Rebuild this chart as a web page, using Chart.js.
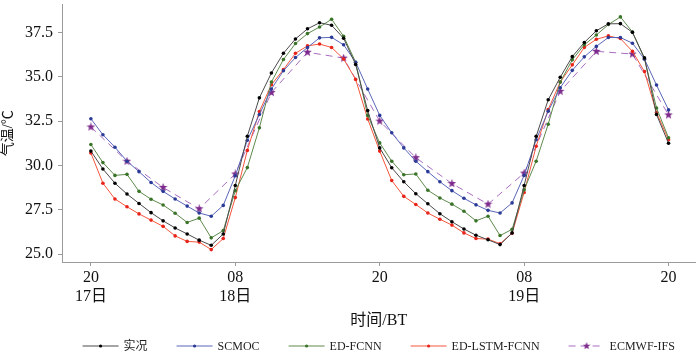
<!DOCTYPE html>
<html>
<head>
<meta charset="utf-8">
<title>气温对比</title>
<script src="https://cdn.jsdelivr.net/npm/chart.js@4"></script>
<style>
    html, body { margin: 0; padding: 0; background: #fff; }
    #chart { display: block; }
</style>
</head>
<body>
<canvas id="chart" width="700" height="353"></canvas>
<script>
// Hours since 20 BT on the 17th
const hours = [];
for (let h = 0; h <= 48; h++) hours.push(h);
const ecmwfHours = [0, 3, 6, 9, 12, 15, 18, 21, 24, 27, 30, 33, 36, 39, 42, 45, 48];

const xTickValues = [0, 12, 24, 36, 48];
const xTickLabels = [['20', '17日'], ['08', '18日'], ['20', ''], ['08', '19日'], ['20', '']];
const yTickValues = [25.0, 27.5, 30.0, 32.5, 35.0, 37.5];

const observed = [30.81, 29.80, 29.00, 28.39, 27.86, 27.34, 26.88, 26.48, 26.14, 25.79, 25.50, 26.14, 28.87,
    31.65, 33.81, 35.21, 36.32, 37.13, 37.70, 38.04, 37.90, 37.17, 35.69, 33.09, 30.99,
    29.87, 29.08, 28.41, 27.84, 27.28, 26.83, 26.42, 26.07, 25.81, 25.54, 26.20, 28.87,
    31.64, 33.70, 34.97, 36.13, 36.93, 37.59, 37.98, 37.99, 37.50, 36.06, 32.87, 31.25];

const scmoc = [32.63, 31.73, 31.03, 30.24, 29.65, 29.04, 28.54, 28.11, 27.71, 27.32, 27.14, 27.75, 29.42,
    31.42, 32.87, 34.31, 35.34, 36.08, 36.65, 37.19, 37.22, 36.80, 35.82, 34.31, 32.82,
    31.84, 30.99, 30.24, 29.65, 29.08, 28.58, 28.15, 27.78, 27.47, 27.32, 27.89, 29.44,
    31.45, 33.06, 34.38, 35.36, 36.12, 36.71, 37.21, 37.21, 36.89, 35.99, 34.53, 33.13];

const edFcnn = [31.18, 30.16, 29.44, 29.50, 28.54, 28.10, 27.77, 27.31, 26.79, 27.03, 25.92, 26.33, 28.58,
    29.88, 32.12, 34.70, 35.97, 36.87, 37.43, 37.80, 38.24, 37.28, 35.82, 32.82, 31.27,
    30.24, 29.48, 29.52, 28.60, 28.17, 27.82, 27.42, 26.88, 27.14, 26.05, 26.40, 28.63,
    30.24, 32.32, 34.70, 35.95, 36.80, 37.35, 37.94, 38.37, 37.52, 36.01, 33.24, 31.56];

const edLstmFcnn = [30.70, 29.00, 28.11, 27.67, 27.27, 26.92, 26.57, 26.03, 25.72, 25.68, 25.26, 25.88, 28.19,
    30.85, 33.04, 34.55, 35.40, 36.32, 36.74, 36.84, 36.65, 36.00, 34.85, 32.62, 30.81,
    29.15, 28.26, 27.80, 27.32, 26.97, 26.64, 26.20, 25.88, 25.85, 25.59, 26.18, 28.48,
    31.08, 33.15, 34.70, 35.67, 36.65, 37.11, 37.30, 37.15, 36.43, 35.29, 32.98, 31.45];

const ecmwf = [32.17, 30.24, 28.76, 27.56, 29.52, 34.11, 36.38, 36.05, 32.50,
    30.44, 28.98, 27.82, 29.57, 34.18, 36.43, 36.28, 32.85];

const serif = '"Liberation Serif", "Noto Sans CJK SC", serif';

// Filled star marker for ECMWF-IFS
function makeStar(size, color) {
    const c = document.createElement('canvas');
    c.width = size;
    c.height = size;
    const g = c.getContext('2d');
    const cx = size / 2, cy = size / 2, R = size / 2, r = R * 0.42;
    g.beginPath();
    for (let i = 0; i < 10; i++) {
        const rad = i % 2 === 0 ? R : r;
        const a = -Math.PI / 2 + i * Math.PI / 5;
        const px = cx + rad * Math.cos(a), py = cy + rad * Math.sin(a);
        if (i === 0) g.moveTo(px, py); else g.lineTo(px, py);
    }
    g.closePath();
    g.fillStyle = color;
    g.fill();
    return c;
}
const starImg = makeStar(9, '#7d2a8c');
const legendStar = makeStar(8, '#7d2a8c');

function series(values, xs) {
    return values.map((v, i) => ({ x: xs[i], y: v }));
}

// Legend drawn under the axes: short line with marker, then label
const legendPlugin = {
    id: 'bottomLegend',
    afterDraw(chart) {
        const ctx = chart.ctx;
        const y = 346;
        const lineLen = 36, gapText = 5, gapItem = 29;
        ctx.save();
        ctx.font = '12px ' + serif;
        const items = chart.data.datasets.map(ds => ({ ds, w: ctx.measureText(ds.label).width }));
        const total = items.reduce((s, it) => s + lineLen + gapText + it.w, 0) + gapItem * (items.length - 1);
        let x = (chart.chartArea.left + chart.chartArea.right) / 2 - total / 2;
        items.forEach(it => {
            const ds = it.ds;
            ctx.strokeStyle = ds.borderColor;
            ctx.lineWidth = 1;
            ctx.setLineDash(ds.borderDash || []);
            ctx.beginPath();
            ctx.moveTo(x, y);
            ctx.lineTo(x + lineLen, y);
            ctx.stroke();
            ctx.setLineDash([]);
            const mx = x + lineLen / 2;
            if (ds.pointStyle === starImg) {
                ctx.drawImage(legendStar, mx - 4, y - 4);
            } else {
                ctx.fillStyle = ds.pointBackgroundColor;
                ctx.beginPath();
                ctx.arc(mx, y, 1.6, 0, Math.PI * 2);
                ctx.fill();
            }
            ctx.fillStyle = '#222';
            ctx.textBaseline = 'middle';
            ctx.textAlign = 'left';
            ctx.fillText(ds.label, x + lineLen + gapText, y + 1);
            x += lineLen + gapText + it.w + gapItem;
        });
        ctx.restore();
    }
};

function lineSet(label, values, xs, lineColor, pointColor, extra) {
    return Object.assign({
        label: label,
        data: series(values, xs),
        borderColor: lineColor,
        backgroundColor: pointColor,
        pointBackgroundColor: pointColor,
        pointBorderColor: pointColor,
        borderWidth: 1,
        pointRadius: 1.8,
        pointBorderWidth: 0,
        tension: 0,
        fill: false
    }, extra || {});
}

document.addEventListener('DOMContentLoaded', function() {
    const ctx = document.getElementById('chart');
    const axisColor = '#9a9a9a';

    new Chart(ctx, {
        type: 'line',
        data: {
            datasets: [
                lineSet('实况', observed, hours, '#4a4a4a', '#000000'),
                lineSet('SCMOC', scmoc, hours, '#5a66b8', '#2a3a96'),
                lineSet('ED-FCNN', edFcnn, hours, '#5e8a4c', '#3a7428'),
                lineSet('ED-LSTM-FCNN', edLstmFcnn, hours, '#f4563c', '#e8231a'),
                lineSet('ECMWF-IFS', ecmwf, ecmwfHours, '#a96cc0', '#7d2a8c', {
                    borderDash: [7, 5],
                    pointStyle: starImg,
                    pointRadius: 4.5
                })
            ]
        },
        options: {
            responsive: false,
            animation: false,
            layout: { padding: { top: 0, left: 0, right: 2, bottom: 23 } },
            plugins: {
                legend: { display: false },
                tooltip: { enabled: false }
            },
            scales: {
                x: {
                    type: 'linear',
                    min: -2.4,
                    max: 50.24,
                    afterBuildTicks: function(axis) {
                        axis.ticks = xTickValues.map(v => ({ value: v }));
                    },
                    afterFit: function(scale) {
                        scale.height = 68;
                        scale.paddingLeft = 0;
                        scale.paddingRight = 0;
                    },
                    grid: { display: true, drawOnChartArea: false, drawTicks: true, tickLength: 4, color: axisColor },
                    border: { color: axisColor, width: 1 },
                    ticks: {
                        color: '#111',
                        padding: 3,
                        maxRotation: 0,
                        autoSkip: false,
                        font: { family: serif, size: 16, lineHeight: 1.15 },
                        callback: function(value) {
                            const i = xTickValues.indexOf(value);
                            return i >= 0 ? xTickLabels[i] : '';
                        }
                    },
                    title: {
                        display: true,
                        text: '时间/BT',
                        color: '#111',
                        padding: { top: 0, bottom: 0 },
                        font: { family: serif, size: 16, lineHeight: 1.2 }
                    }
                },
                y: {
                    min: 24.56,
                    max: 39.07,
                    afterBuildTicks: function(axis) {
                        axis.ticks = yTickValues.map(v => ({ value: v }));
                    },
                    afterFit: function(scale) {
                        scale.width = 62;
                        scale.paddingTop = 0;
                        scale.paddingBottom = 0;
                    },
                    grid: { display: true, drawOnChartArea: false, drawTicks: true, tickLength: 4, color: axisColor },
                    border: { color: axisColor, width: 1 },
                    ticks: {
                        color: '#111',
                        padding: 5,
                        font: { family: serif, size: 16 },
                        callback: function(value) {
                            return value.toFixed(1);
                        }
                    },
                    title: {
                        display: true,
                        text: '气温/℃',
                        color: '#111',
                        padding: { top: 0, bottom: 0 },
                        font: { family: serif, size: 14, lineHeight: 1.2 }
                    }
                }
            }
        },
        plugins: [legendPlugin]
    });
});
</script>
</body>
</html>
